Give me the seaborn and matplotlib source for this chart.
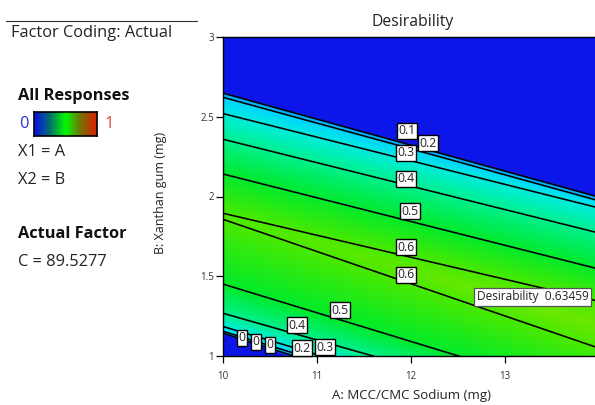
import numpy as np
import matplotlib
matplotlib.use("Agg")
import matplotlib.pyplot as plt
from matplotlib.colors import LinearSegmentedColormap
from matplotlib.lines import Line2D
import seaborn as sns

# ---------------- data ----------------
# columns: A: MCC/CMC Sodium (mg)
A_MG = [10, 11, 12, 13, 14]

# profiles across B (Xanthan gum, mg): at each A column, the B value where
# the desirability takes the value given in the matching D_* list
B_FLOOR      = [0.000, 0.000, 0.000, 0.000, 0.000]
B_LOW_EDGE   = [1.138, 0.941, 0.744, 0.547, 0.350]
B_LOW_01     = [1.143, 0.953, 0.763, 0.573, 0.383]
B_LOW_02     = [1.155, 0.973, 0.791, 0.609, 0.427]
B_LOW_03     = [1.185, 1.009, 0.833, 0.657, 0.481]
B_LOW_04     = [1.268, 1.100, 0.932, 0.764, 0.596]
B_LOW_05     = [1.451, 1.271, 1.091, 0.911, 0.731]
B_LOW_06     = [1.857, 1.655, 1.453, 1.251, 1.049]
B_RIDGE      = [1.876, 1.706, 1.536, 1.366, 1.196]
B_UP_06      = [1.895, 1.757, 1.619, 1.481, 1.343]
B_UP_05      = [2.141, 1.992, 1.843, 1.694, 1.545]
B_UP_04      = [2.359, 2.212, 2.065, 1.918, 1.771]
B_UP_03      = [2.520, 2.372, 2.224, 2.076, 1.928]
B_UP_02      = [2.622, 2.460, 2.299, 2.136, 1.973]
B_UP_01      = [2.648, 2.485, 2.322, 2.159, 1.996]
B_UP_EDGE    = [2.655, 2.492, 2.329, 2.166, 2.003]
B_CEIL       = [3.050, 3.050, 3.050, 3.050, 3.050]

D_ZERO  = [0.0, 0.0, 0.0, 0.0, 0.0]
D_01    = [0.1, 0.1, 0.1, 0.1, 0.1]
D_02    = [0.2, 0.2, 0.2, 0.2, 0.2]
D_03    = [0.3, 0.3, 0.3, 0.3, 0.3]
D_04    = [0.4, 0.4, 0.4, 0.4, 0.4]
D_05    = [0.5, 0.5, 0.5, 0.5, 0.5]
D_06    = [0.6, 0.6, 0.6, 0.6, 0.6]
D_RIDGE = [0.602, 0.612, 0.624, 0.6346, 0.633]

CONTOUR_LEVELS = [0.1, 0.2, 0.3, 0.4, 0.5, 0.6]
OPTIMUM_TEXT = "Desirability  0.63459"
FACTOR_C = "89.5277"

# ---------------- styling ----------------
sns.set_theme(style="ticks")
plt.rcParams["font.family"] = ["Open Sans", "DejaVu Sans"]

b_rows = [B_FLOOR, B_LOW_EDGE, B_LOW_01, B_LOW_02, B_LOW_03, B_LOW_04, B_LOW_05,
          B_LOW_06, B_RIDGE, B_UP_06, B_UP_05, B_UP_04, B_UP_03, B_UP_02, B_UP_01,
          B_UP_EDGE, B_CEIL]
d_rows = [D_ZERO, D_ZERO, D_01, D_02, D_03, D_04, D_05, D_06, D_RIDGE, D_06, D_05,
          D_04, D_03, D_02, D_01, D_ZERO, D_ZERO]

Y = np.array(b_rows, dtype=float)
Z = np.array(d_rows, dtype=float)
X = np.tile(np.array(A_MG, dtype=float), (Y.shape[0], 1))

def rgb(r, g, b):
    return (r / 255, g / 255, b / 255)

surf_cmap = LinearSegmentedColormap.from_list("de_surface", [
    (0.00, rgb(12, 22, 232)),
    (0.05, rgb(0, 95, 255)),
    (0.10, rgb(0, 145, 255)),
    (0.20, rgb(0, 210, 255)),
    (0.30, rgb(0, 238, 222)),
    (0.40, rgb(0, 240, 140)),
    (0.50, rgb(0, 234, 45)),
    (0.55, rgb(30, 234, 0)),
    (0.60, rgb(75, 233, 0)),
    (0.64, rgb(112, 232, 0)),
    (1.00, rgb(225, 30, 0)),
])

legend_cmap = LinearSegmentedColormap.from_list("de_legend", [
    (0.0, rgb(10, 10, 240)),
    (0.25, rgb(0, 110, 110)),
    (0.5, rgb(0, 250, 0)),
    (0.75, rgb(120, 110, 0)),
    (1.0, rgb(225, 30, 0)),
])

W, H = 595, 405
fig = plt.figure(figsize=(W / 100, H / 100), dpi=100)
fig.patch.set_facecolor("white")

ax = fig.add_axes([223 / W, (H - 356) / H, 376 / W, 319 / H])
ax.pcolormesh(X, Y, Z, shading="gouraud", cmap=surf_cmap, vmin=0, vmax=1)
ax.contour(X, Y, Z, levels=CONTOUR_LEVELS, colors="black", linewidths=1.15)

ax.set_xlim(10, 14)
ax.set_ylim(1, 3)
ax.set_xticks([10, 11, 12, 13, 14])
ax.set_xticklabels(["10", "11", "12", "13", "14"])
ax.set_yticks([1, 1.5, 2, 2.5, 3])
ax.set_yticklabels(["1", "1.5", "2", "2.5", "3"])
ax.tick_params(axis="x", direction="out", length=5, width=0.9, labelsize=7,
               pad=6, colors="black", labelcolor="#333333", bottom=True)
ax.tick_params(axis="y", direction="out", length=5, width=0.9, labelsize=7,
               pad=1.5, colors="black", labelcolor="#333333", left=True)
for s in ax.spines.values():
    s.set_color("black")
    s.set_linewidth(1.0)
ax.grid(False)

ax.set_xlabel("A: MCC/CMC Sodium (mg)", fontsize=9.5, color="#222222")
ax.xaxis.set_label_coords(0.5, -0.105)
ax.set_ylabel("B: Xanthan gum (mg)", fontsize=9, color="#222222")
ax.yaxis.set_label_coords(-0.150, 0.51)
ax.text(0.505, 1.047, "Desirability", transform=ax.transAxes, ha="center",
        va="center", fontsize=11.3, color="#222222")

# contour labels (annotation boxes)
box = dict(boxstyle="square,pad=0.12", fc="white", ec="black", lw=1.0)
labels = [
    ("0.1", 11.957, 2.411), ("0.2", 12.18, 2.335), ("0.3", 11.947, 2.273),
    ("0.4", 11.947, 2.110), ("0.5", 11.99, 1.909), ("0.6", 11.947, 1.683),
    ("0.6", 11.947, 1.508), ("0.5", 11.245, 1.288), ("0.4", 10.787, 1.194),
    ("0.2", 10.84, 1.050), ("0.3", 11.085, 1.056),
    ("0", 10.20, 1.113), ("0", 10.35, 1.088), ("0", 10.50, 1.069),
]
for txt, lx, ly in labels:
    ax.text(lx, ly, txt, ha="center", va="center", fontsize=8.8,
            color="#222222", bbox=box, zorder=5)
ax.text(12.70, 1.37, OPTIMUM_TEXT, ha="left", va="center", fontsize=8.6,
        color="#222222", bbox=dict(boxstyle="square,pad=0.2", fc="white",
                                   ec="#555555", lw=0.9), zorder=6, clip_on=False)

# ---------------- left information panel ----------------
fig.add_artist(Line2D([6 / W, 197 / W], [1 - 21 / H, 1 - 21 / H], color="#333333", lw=0.8))

def ftext(px, py, s, **kw):
    fig.text(px / W, 1 - py / H, s, ha="left", va="center", **kw)

FS = 11.8
ftext(11, 33, "Factor Coding: Actual", fontsize=FS, color="#222222")
ftext(18, 96, "All Responses", fontsize=FS, fontweight="bold", color="#111111")
ftext(19, 124, "0", fontsize=FS, color="#2a2ae0")
ftext(104, 124, "1", fontsize=FS, color="#e23b3b")
ftext(18, 152, "X1 = A", fontsize=FS, color="#222222")
ftext(18, 180, "X2 = B", fontsize=FS, color="#222222")
ftext(18, 234, "Actual Factor", fontsize=FS, fontweight="bold", color="#111111")
ftext(18, 262, "C = " + FACTOR_C, fontsize=FS, color="#222222")

cax = fig.add_axes([34 / W, 1 - 136 / H, 63 / W, 24 / H])
cax.imshow(np.linspace(0, 1, 256)[None, :], aspect="auto", cmap=legend_cmap,
           extent=[0, 1, 0, 1])
cax.set_xticks([])
cax.set_yticks([])
for s in cax.spines.values():
    s.set_color("black")
    s.set_linewidth(1.2)

fig.savefig("out.png", dpi=100)
